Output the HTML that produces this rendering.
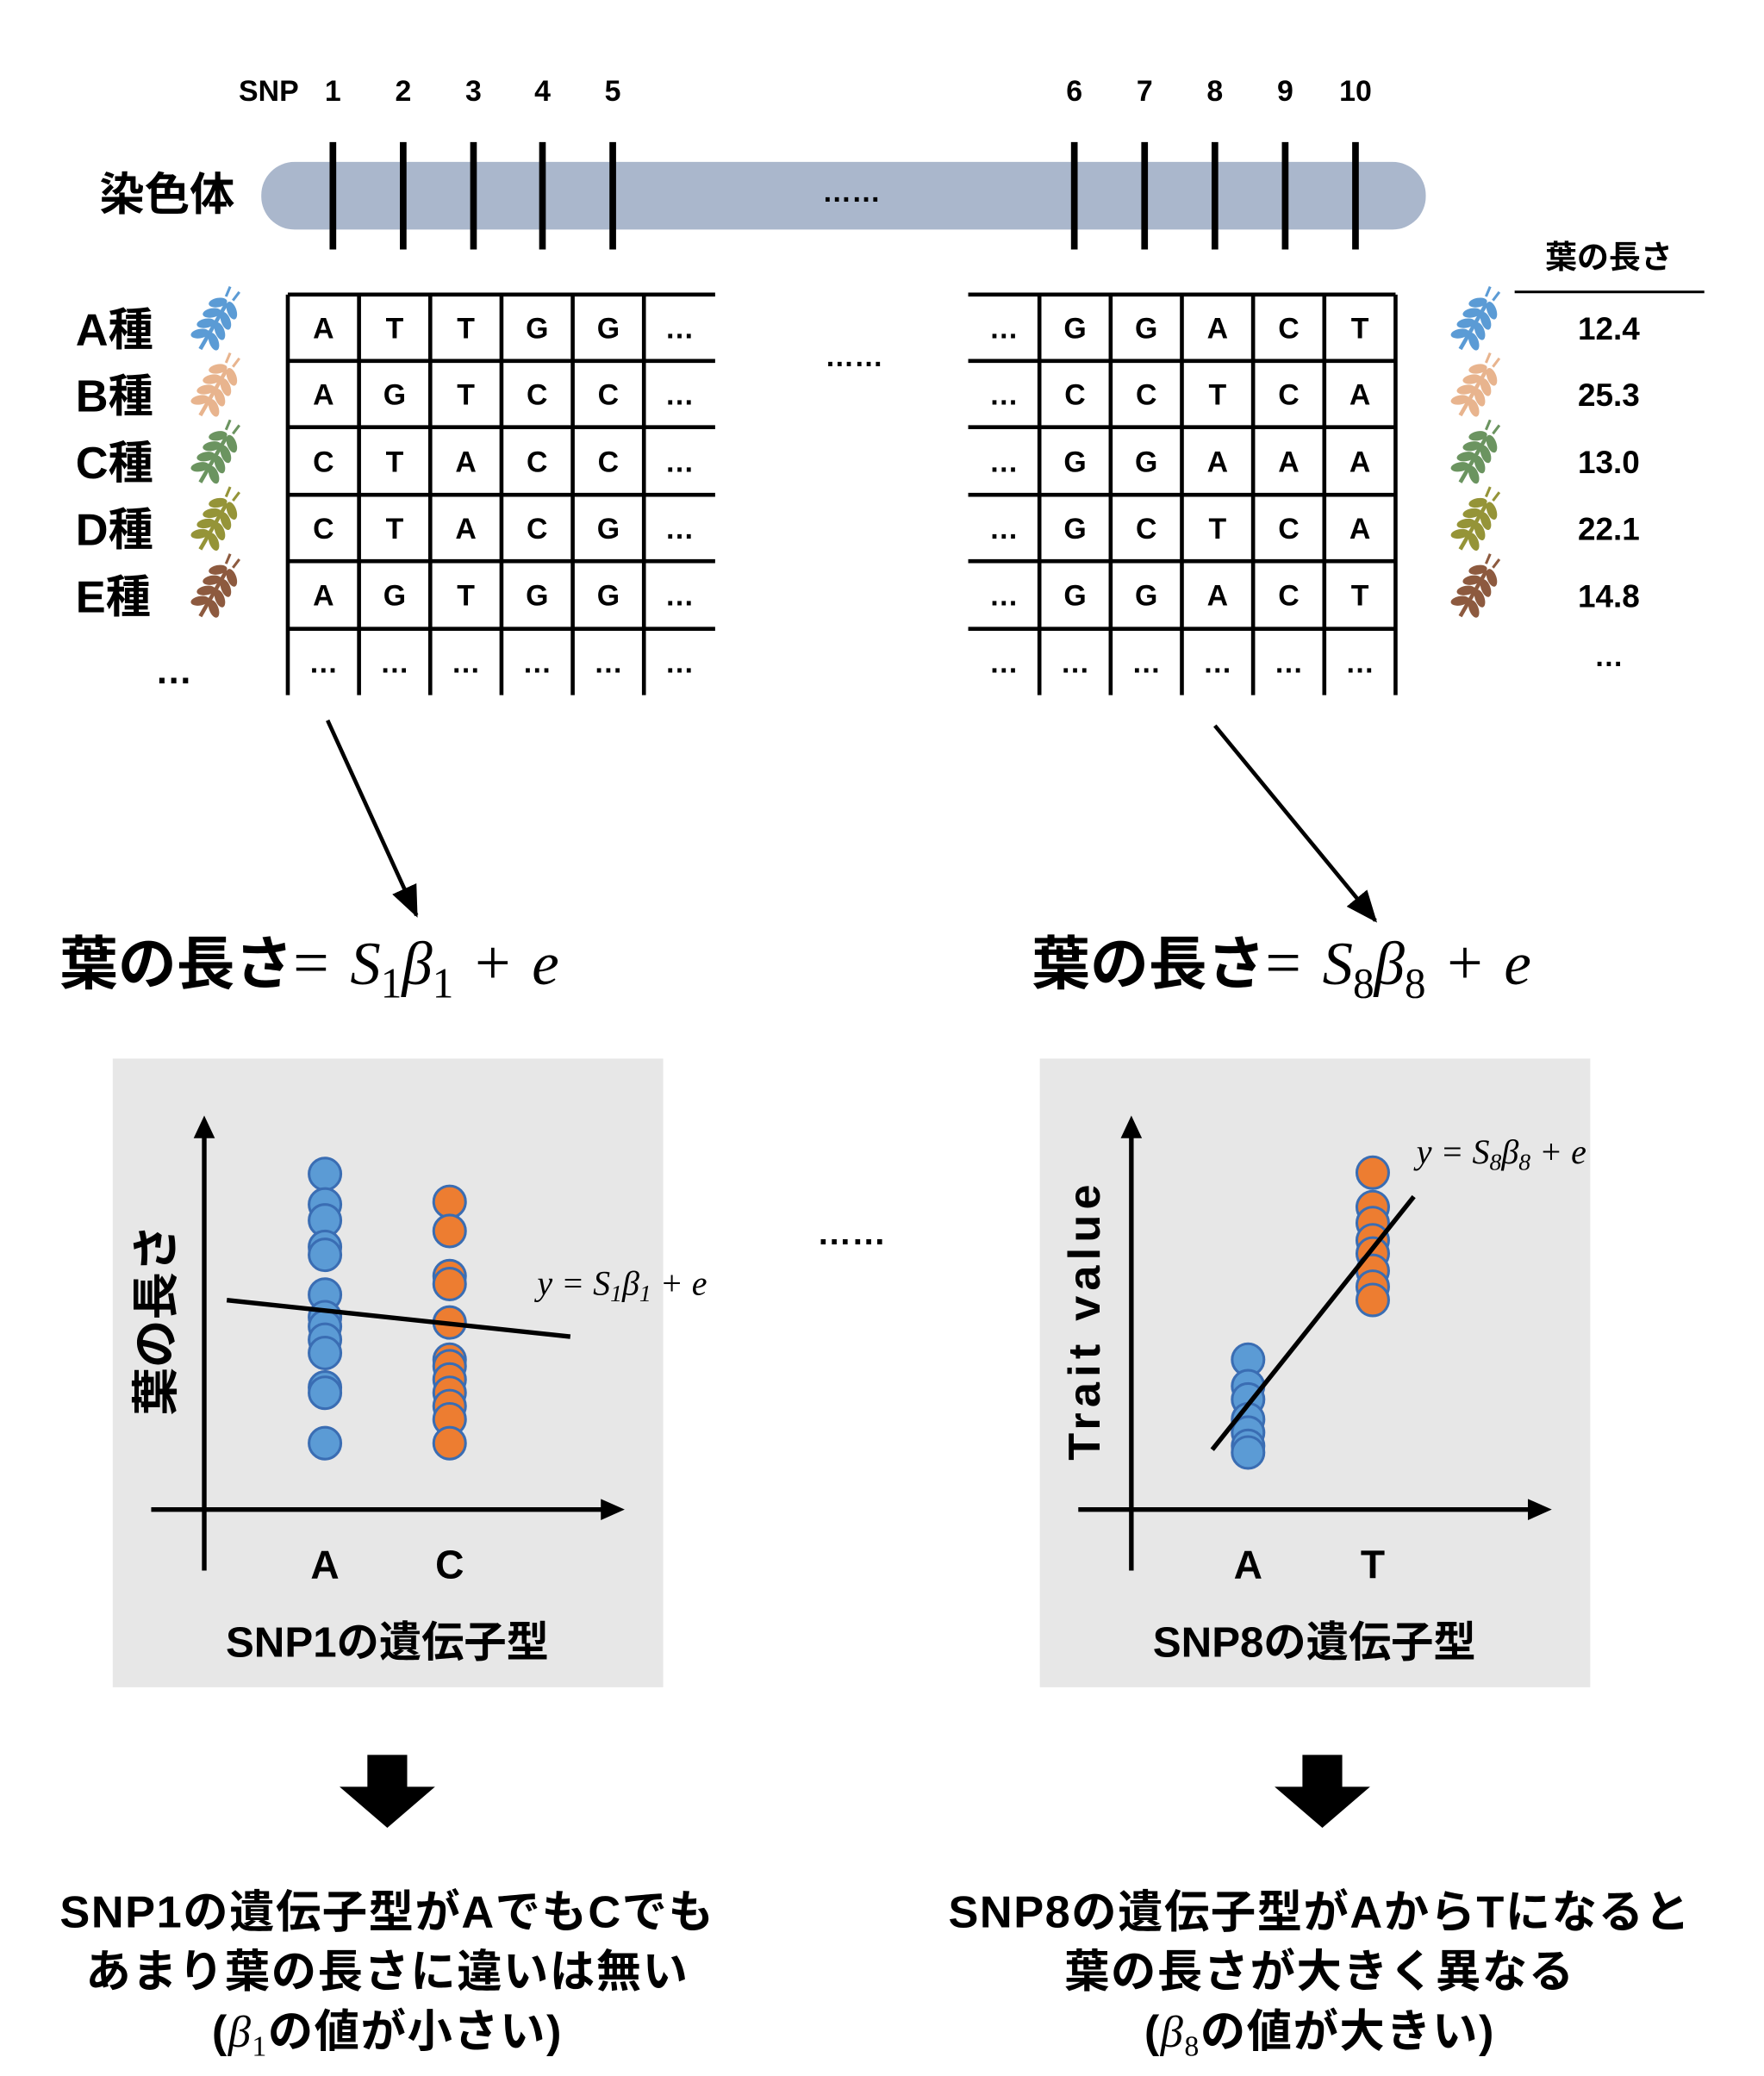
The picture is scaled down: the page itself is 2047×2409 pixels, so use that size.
<!DOCTYPE html>
<html><head><meta charset="utf-8"><style>
html,body{margin:0;padding:0;background:#fff;}
svg{display:block;}
text{font-family:"Liberation Sans","Noto Sans CJK JP",sans-serif;font-weight:bold;fill:#000;}
.m{font-family:"Liberation Serif",serif;font-style:italic;font-weight:normal;}
.mn{font-family:"Liberation Serif",serif;font-weight:normal;}
</style></head><body>
<svg id="s" width="2047" height="2409" viewBox="0 0 1330 1565" xmlns="http://www.w3.org/2000/svg">
<g id="top">
<text x="180" y="76" font-size="22">SNP</text>
<text x="75" y="158" font-size="34">染色体</text>
<rect x="197" y="122" width="878" height="51" rx="25" fill="#aab7cc"/>
<text x="642" y="152" font-size="22" text-anchor="middle">……</text>
<text x="644" y="276" font-size="22" text-anchor="middle">……</text>
<text x="642" y="938" font-size="26" text-anchor="middle">……</text>
</g>
<g id="dyn"></g>
</svg>
<script>
const snpNums=["1","2","3","4","5","6","7","8","9","10"];
const snpX=[251,304,357,409,462,810,863,916,969,1022];
const varieties=["A種","B種","C種","D種","E種"];
const wheatColors=["#5b9bd5","#e8b48e","#6b9460","#959438","#8d5a3f"];
const leftSeq=[["A","T","T","G","G"],["A","G","T","C","C"],["C","T","A","C","C"],["C","T","A","C","G"],["A","G","T","G","G"]];
const rightSeq=[["G","G","A","C","T"],["C","C","T","C","A"],["G","G","A","A","A"],["G","C","T","C","A"],["G","G","A","C","T"]];
const leafLen=["12.4","25.3","13.0","22.1","14.8"];
// scatter data (trait units)
const p1A=[25.3,23.0,21.8,19.8,19.2,16.2,14.5,13.8,12.8,11.8,9.2,8.8,5.0];
const p1C=[23.2,21.0,17.6,17.0,14.1,11.3,10.8,9.8,8.8,7.8,6.8,5.0];
const p8A=[11.3,9.3,8.3,6.8,5.8,4.8,4.3];
const p8T=[25.4,22.8,21.6,20.3,19.3,18.0,16.8,15.8];
const fit1=[15.0,14.0];
const fit8=[7.9,19.7];
const NS="http://www.w3.org/2000/svg";
const g=document.getElementById('dyn');
function el(t,a,txt){const e=document.createElementNS(NS,t);for(const k in a)e.setAttribute(k,a[k]);if(txt!==undefined)e.textContent=txt;g.appendChild(e);return e;}
snpNums.forEach((n,i)=>{
 const t=el('text',{x:snpX[i],y:76,'font-size':22,'text-anchor':'middle'},n);
 
 
 const l=el('line',{x1:snpX[i],x2:snpX[i],y1:107,y2:188,stroke:'#000','stroke-width':5});
 
 
});
const rowY=[222,272,322,373,423,474,524];
function grid(x0,seq,leftDots,nameP){
 const cw=53.7;
 for(let r=0;r<6;r++){const h=el('line',{x1:x0,x2:x0+cw*6,y1:rowY[r],y2:rowY[r],stroke:'#000','stroke-width':3});
  
  }
 for(let c=0;c<7;c++){if(leftDots&&c==0)continue;if(!leftDots&&c==6)continue;
  const v=el('line',{x1:x0+cw*c,x2:x0+cw*c,y1:222,y2:524,stroke:'#000','stroke-width':3});
  
  }
 for(let r=0;r<6;r++)for(let c=0;c<6;c++){
  let s='…';
  if(r<5){const bc=leftDots?c-1:c; if(bc>=0&&bc<5)s=seq[r][bc];}
  const t=el('text',{x:x0+cw*c+cw/2,y:(rowY[r]+rowY[r+1])/2+8,'font-size':22,'text-anchor':'middle'},s);
  
  
 }
}
grid(217,leftSeq,false,'left-table');
grid(730,rightSeq,true,'right-table');
function wheat(x,y,c,nm){
 const gg=document.createElementNS(NS,'g');gg.setAttribute('transform',`translate(${x},${y}) rotate(30)`);
 
 
 let s=`<line x1="0" y1="22" x2="0" y2="-18" stroke="${c}" stroke-width="3"/>`;
 for(let k=0;k<4;k++){const yy=12-k*9;s+=`<ellipse cx="-6" cy="${yy}" rx="7" ry="3.5" transform="rotate(-40 -6 ${yy})" fill="${c}"/><ellipse cx="6" cy="${yy}" rx="7" ry="3.5" transform="rotate(40 6 ${yy})" fill="${c}"/>`;}
 s+=`<line x1="-3" y1="-22" x2="-4" y2="-30" stroke="${c}" stroke-width="2"/><line x1="3" y1="-22" x2="4" y2="-30" stroke="${c}" stroke-width="2"/>`;
 gg.innerHTML=s;g.appendChild(gg);
}
varieties.forEach((v,i)=>{
 const cy=(rowY[i]+rowY[i+1])/2;
 const t=el('text',{x:57,y:cy+13,'font-size':34},v);
 
 
 wheat(162,cy-3,wheatColors[i],'wheat-icon-left');
 wheat(1112,cy-3,wheatColors[i],'wheat-icon-right');
 const l=el('text',{x:1213,y:cy+9,'font-size':24,'text-anchor':'middle'},leafLen[i]);
 
 
});
let t=el('text',{x:131,y:515,'font-size':28,'text-anchor':'middle'},'…');


t=el('text',{x:1213,y:502,'font-size':22,'text-anchor':'middle'},'…');


t=el('text',{x:1213,y:202,'font-size':24,'text-anchor':'middle'},'葉の長さ');


let ln=el('line',{x1:1142,x2:1285,y1:220,y2:220,stroke:'#000','stroke-width':2});


const defs=document.createElementNS(NS,'defs');defs.innerHTML='<marker id="ah2" markerWidth="24" markerHeight="20" refX="22" refY="10" orient="auto" markerUnits="userSpaceOnUse" viewBox="0 0 24 20"><path d="M0,0 L24,10 L0,20z"/></marker>';g.appendChild(defs);
ln=el('line',{x1:247,y1:543,x2:314,y2:690,stroke:'#000','stroke-width':3,'marker-end':'url(#ah2)'});


ln=el('line',{x1:916,y1:547,x2:1037,y2:694,stroke:'#000','stroke-width':3,'marker-end':'url(#ah2)'});


function eq(x,sub,nm){
 const tt=el('text',{x:x,y:742,'font-size':44});
 
 
 tt.innerHTML=`葉の長さ<tspan class="mn" font-size="48">=</tspan><tspan class="m" font-size="46" dx="16">S</tspan><tspan class="mn" font-size="32" dy="10">${sub}</tspan><tspan class="m" font-size="46" dy="-10">β</tspan><tspan class="mn" font-size="32" dy="10">${sub}</tspan><tspan class="mn" font-size="48" dy="-10" dx="16">+</tspan><tspan class="m" font-size="46" dx="16">e</tspan>`;
}
eq(45,'1','equation-snp1');
eq(778,'8','equation-snp8');
function plot(px,A,B,fit,labs,ytitle,xtitle,eqsub,eqx,eqy,nm,xo,fx0o,fx1o){
 const r=el('rect',{x:px,y:798,width:415,height:474,fill:'#e7e7e7'});
 
 
 const ax=px+69, ay=1138;
 const xs=[px+xo[0],px+xo[1]];
 const yS=v=>ay-v*10;
 const xS=i=>xs[i];
 let l=el('line',{x1:ax,x2:ax,y1:1184,y2:855,stroke:'#000','stroke-width':3.5});
 
 
 l=el('polygon',{points:`${ax-8},858 ${ax+8},858 ${ax},841`});
 
 
 l=el('line',{x1:px+29,x2:px+370,y1:ay,y2:ay,stroke:'#000','stroke-width':3.5});
 
 
 l=el('polygon',{points:`${px+368},${ay-8} ${px+368},${ay+8} ${px+386},${ay}`});
 
 
 [A,B].forEach((arr,i)=>{arr.forEach(v=>{
  const c=el('circle',{cx:xS(i),cy:yS(v),r:12,fill:i?'#ed7d31':'#5b9bd5',stroke:'#3a6db3','stroke-width':2});
  
  
 });
 const tl=el('text',{x:xS(i),y:1190,'font-size':30,'text-anchor':'middle'},labs[i]);
 
 
 });
 const dx=xs[1]-xs[0];
 const fx0=px+fx0o, fx1=px+fx1o;
 const fy=x=>fit[0]+(fit[1]-fit[0])*(x-xs[0])/dx;
 l=el('line',{x1:fx0,y1:yS(fy(fx0)),x2:fx1,y2:yS(fy(fx1)),stroke:'#000','stroke-width':3.5});
 
 
 const te=el('text',{x:eqx,y:eqy,'font-size':26,class:'m'});
 
 
 te.innerHTML=`y <tspan class="mn">=</tspan> S<tspan class="mn" font-size="18" dy="5">${eqsub}</tspan><tspan dy="-5">β</tspan><tspan class="mn" font-size="18" dy="5">${eqsub}</tspan><tspan class="mn" dy="-5"> + </tspan>e`;
 const yt=el('text',{x:0,y:0,'font-size':ytitle.length>5?34:36,'text-anchor':'middle',transform:`translate(${px+45},${995}) rotate(-90)`},ytitle);
 if(ytitle.length>5)yt.setAttribute('letter-spacing','4');
 
 
 const xt=el('text',{x:px+207,y:1249,'font-size':32,'text-anchor':'middle'},xtitle);
 
 
}
plot(85,p1A,p1C,fit1,['A','C'],'葉の長さ','SNP1の遺伝子型','1',405,976,'plot-snp1',[160,254],86,345);
plot(784,p8A,p8T,fit8,['A','T'],'Trait value','SNP8の遺伝子型','8',1068,877,'plot-snp8',[157,251],130,282);
[292,997].forEach((cx,i)=>{
 const p=el('polygon',{points:`${cx-15},1323 ${cx+15},1323 ${cx+15},1347 ${cx+36},1347 ${cx},1378 ${cx-36},1347 ${cx-15},1347`});
 
 
});
function concl(cx,lines,nm){lines.forEach((s,i)=>{
 const tt=el('text',{x:cx,y:1453+i*45,'font-size':34,'text-anchor':'middle','letter-spacing':'1'});
 tt.innerHTML=s;
 
 
});}
concl(292,['SNP1の遺伝子型がAでもCでも','あまり葉の長さに違いは無い','(<tspan class="m" font-weight="normal">β</tspan><tspan class="mn" font-size="22" dy="7">1</tspan><tspan dy="-7">の値が小さい)</tspan>'],'conclusion-snp1');
concl(995,['SNP8の遺伝子型がAからTになると','葉の長さが大きく異なる','(<tspan class="m" font-weight="normal">β</tspan><tspan class="mn" font-size="22" dy="7">8</tspan><tspan dy="-7">の値が大きい)</tspan>'],'conclusion-snp8');
</script>
</body></html>
